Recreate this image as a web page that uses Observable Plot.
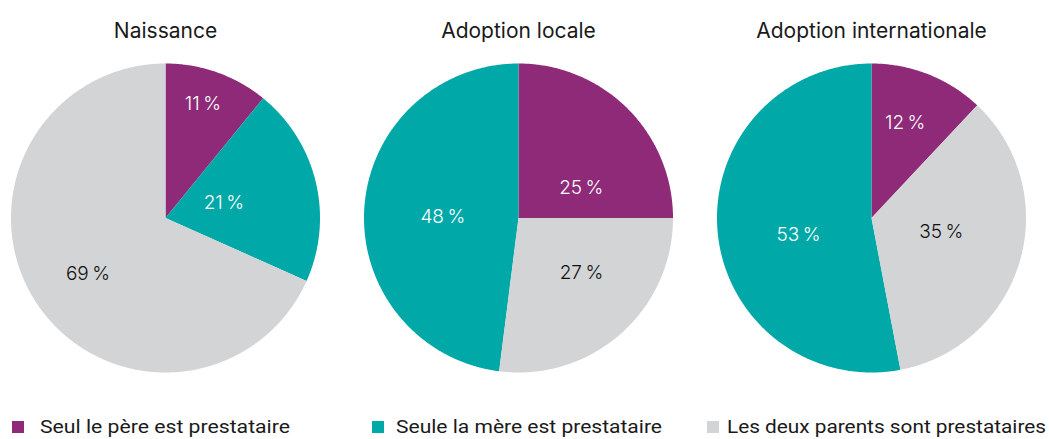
<!DOCTYPE html>
<html>
<head>
<meta charset="utf-8">
<script src="https://cdn.jsdelivr.net/npm/d3@7"></script>
<script src="https://cdn.jsdelivr.net/npm/@observablehq/plot@0.6"></script>
<style>
  html, body { margin: 0; padding: 0; background: #fff; }
  #chart { width: 1049px; position: relative; }
  #legend { position: relative; height: 39px; width: 1049px; font-family: Roboto, "Noto Sans", sans-serif; font-size: 18px; color: #1a1a1a; }
  .item { position: absolute; top: 17px; display: flex; align-items: center; white-space: nowrap; line-height: 20px; height: 20px; }
  .sw { width: 12px; height: 12px; display: inline-block; flex: none; }
  .tx { display: inline-block; transform-origin: left center; }
</style>
</head>
<body>
<div id="chart"></div>
<div id="legend"></div>
<script>
// ---- data ----
const panels = ["Naissance", "Adoption locale", "Adoption internationale"];
const categories = ["Seul le père est prestataire", "Seule la mère est prestataire", "Les deux parents sont prestataires"];
const pere = [11, 25, 12];
const mere = [21, 48, 53];
const deux = [69, 27, 35];

// ---- layout / style (not data) ----
const colors = ["#8E2A78", "#00A8A8", "#D3D4D6"];
const labelRadius = [[0.78, 0.39, 0.62], [0.45, 0.49, 0.54], [0.65, 0.485, 0.46]];
const labelAngleShift = [[-1.5, -1, -3], [19.5, -3, -7.6], [-2, -7.7, -5]];
const legendLeft = [12, 372, 707];
const legendGap = [16, 12, 8];
const legendTextWidth = [250, 266, 319];

const series = [pere, mere, deux];
const slicePts = [];
const labels = [];
const pie = d3.pie().value(d => d.value).sort((a, b) => a.value - b.value);
panels.forEach((panel, i) => {
  const rows = categories.map((category, j) => ({panel, category, j, value: series[j][i]}));
  pie(rows).forEach(a => {
    const d = a.data;
    const key = panel + "|" + d.category;
    slicePts.push({key, panel, category: d.category, x: 0, y: 0});
    const n = Math.max(2, Math.ceil((a.endAngle - a.startAngle) / (Math.PI / 360)));
    for (let k = 0; k <= n; k++) {
      const t = a.startAngle + (a.endAngle - a.startAngle) * k / n;
      slicePts.push({key, panel, category: d.category, x: Math.sin(t), y: Math.cos(t)});
    }
    const mid = (a.startAngle + a.endAngle) / 2 + labelAngleShift[i][d.j] * Math.PI / 180;
    const r = labelRadius[i][d.j];
    labels.push({panel, j: d.j, x: r * Math.sin(mid), y: r * Math.cos(mid), text: `${d.value}\u202F%`});
  });
});

const k = 310 / 309;
const chart = Plot.plot({
  width: 1049,
  height: 400,
  marginTop: 63,
  marginBottom: 28,
  marginLeft: 10,
  marginRight: 23,
  x: {domain: [-k, k], axis: null},
  y: {domain: [-1, 1], axis: null},
  fx: {domain: panels, paddingInner: 43 / 353, paddingOuter: 0, axis: null},
  color: {domain: categories, range: colors},
  style: {fontFamily: "Inter, sans-serif", background: "#fff"},
  marks: [
    Plot.line(slicePts, {fx: "panel", x: "x", y: "y", z: "key", fill: "category", stroke: "none", curve: "linear"}),
    Plot.text(labels.filter(d => d.j !== 2), {fx: "panel", x: "x", y: "y", text: "text", fill: "white", fontSize: 19, fontWeight: 300, fontFamily: "Inter, sans-serif"}),
    Plot.text(labels.filter(d => d.j === 2), {fx: "panel", x: "x", y: "y", text: "text", fill: "#111", fontSize: 19, fontWeight: 300, fontFamily: "Inter, sans-serif"}),
    Plot.text(panels, {fx: d => d, text: d => d, frameAnchor: "top", dy: -40, fontSize: 21, fill: "#1a1a1a", fontFamily: "Inter, sans-serif"})
  ]
});
document.getElementById("chart").appendChild(chart);

const legend = document.getElementById("legend");
categories.forEach((c, j) => {
  const item = document.createElement("div");
  item.className = "item";
  item.style.left = legendLeft[j] + "px";
  const sw = document.createElement("span");
  sw.className = "sw";
  sw.style.background = colors[j];
  sw.style.marginRight = legendGap[j] + "px";
  const tx = document.createElement("span");
  tx.className = "tx";
  tx.textContent = c;
  item.appendChild(sw);
  item.appendChild(tx);
  legend.appendChild(item);
  const w = tx.getBoundingClientRect().width;
  if (w > 0) tx.style.transform = `scaleX(${legendTextWidth[j] / w})`;
});
</script>
</body>
</html>
